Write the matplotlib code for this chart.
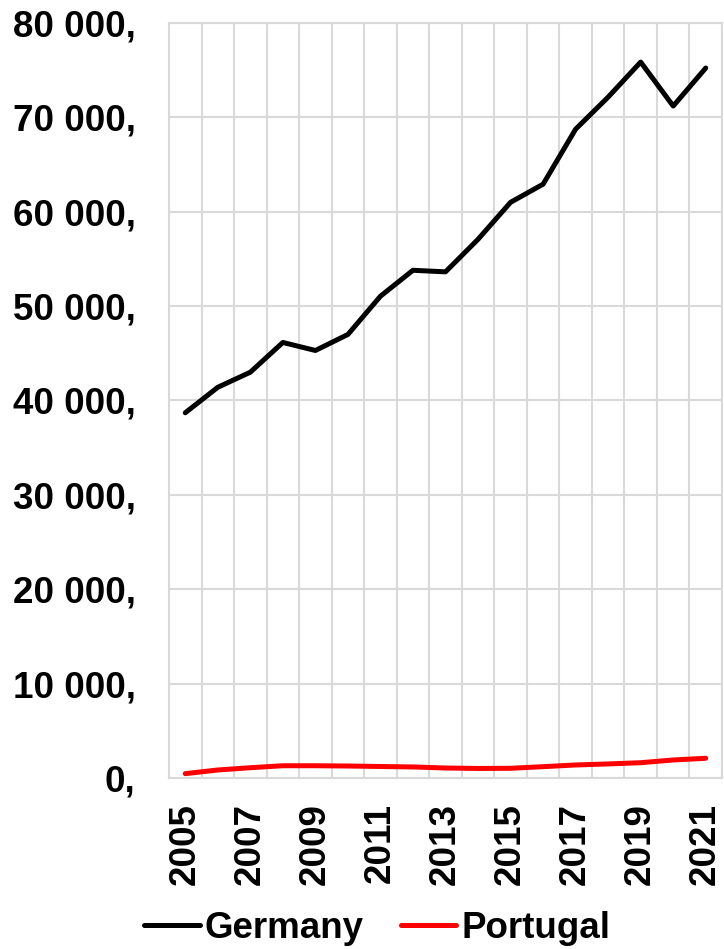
import matplotlib
matplotlib.use("Agg")
import matplotlib.pyplot as plt
from matplotlib.ticker import FuncFormatter, MultipleLocator

plt.rcParams['font.family'] = ['Liberation Sans', 'DejaVu Sans']
plt.rcParams['font.weight'] = 'bold'

years = list(range(2005, 2022))
germany = [38700, 41400, 43000, 46150, 45300, 47000, 51050, 53800, 53630,
           57080, 61000, 62920, 68750, 72150, 75860, 71200, 75230]
portugal = [460, 850, 1090, 1300, 1300, 1270, 1220, 1170, 1060,
            1010, 1030, 1200, 1380, 1490, 1620, 1910, 2090]

fig = plt.figure(figsize=(7.24, 9.49), dpi=100)
ax = fig.add_axes([169 / 724, 1 - 778 / 949, (722 - 169) / 724, (778 - 23) / 949])

x = list(range(len(years)))
ax.plot(x, germany, color='black', lw=3.6, solid_capstyle='round',
        solid_joinstyle='round', label='Germany', zorder=3)
ax.plot(x, portugal, color='#ff0000', lw=3.6, solid_capstyle='round',
        solid_joinstyle='round', label='Portugal', zorder=3)

ax.set_xlim(-0.5, len(years) - 0.5)
ax.set_ylim(0, 80000)
ax.yaxis.set_major_locator(MultipleLocator(10000))
ax.yaxis.set_major_formatter(FuncFormatter(
    lambda v, p: f"{int(v):,}".replace(',', ' ') + ','))

# category grid lines between years
ax.set_xticks([i - 0.5 for i in range(len(years) + 1)], minor=True)
ax.set_xticks(x[::2])
ax.set_xticklabels([str(y) for y in years[::2]], rotation=90)
ax.grid(True, which='minor', axis='x', color='#d9d9d9', lw=1.5)
ax.grid(True, which='major', axis='y', color='#d9d9d9', lw=1.5)
ax.tick_params(which='both', length=0)
ax.tick_params(axis='y', labelsize=26.5, pad=24)
ax.tick_params(axis='x', labelsize=26.5, pad=18)
for s in ax.spines.values():
    s.set_color('#d9d9d9')
    s.set_linewidth(1.5)
ax.set_axisbelow(True)

fig.legend(loc='center', ncol=2, frameon=False, fontsize=26.5,
           handlelength=1.5, handletextpad=0.14, columnspacing=1.0,
           bbox_to_anchor=(0.521, 21 / 949))

fig.savefig('out.png', dpi=100)
